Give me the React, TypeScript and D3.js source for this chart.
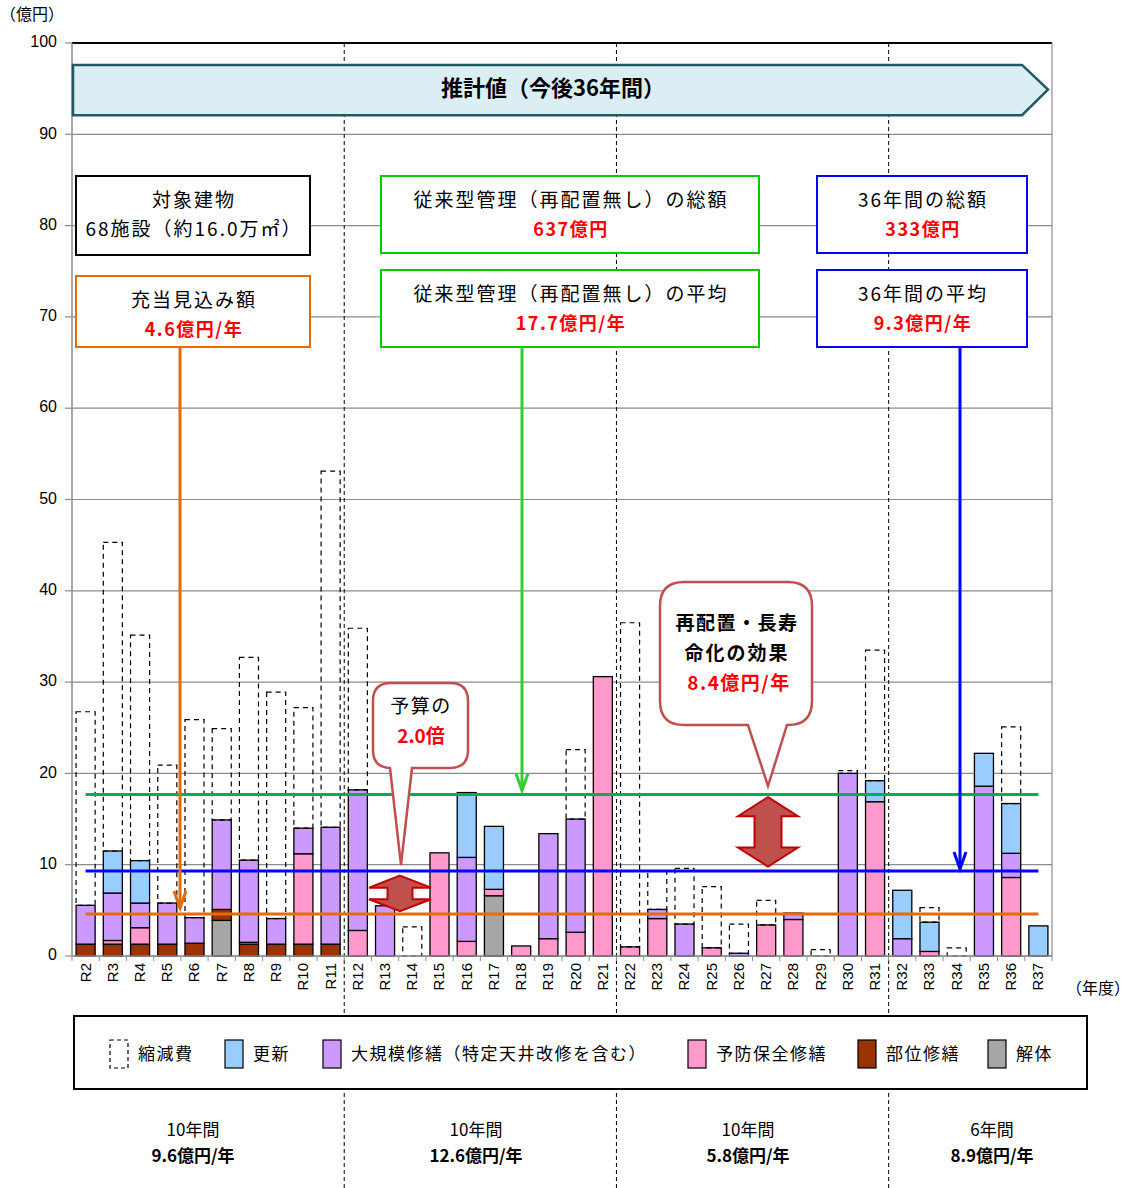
import React from 'react';
import * as d3 from 'd3';

// 年度
const years = [
  'R2', 'R3', 'R4', 'R5', 'R6', 'R7', 'R8', 'R9', 'R10', 'R11',
  'R12', 'R13', 'R14', 'R15', 'R16', 'R17', 'R18', 'R19', 'R20', 'R21',
  'R22', 'R23', 'R24', 'R25', 'R26', 'R27', 'R28', 'R29', 'R30', 'R31',
  'R32', 'R33', 'R34', 'R35', 'R36', 'R37',
];

// series values (億円), bottom of the stack first
const demolition = [0, 0, 0, 0, 0, 3.9, 0, 0, 0, 0, 0, 0, 0, 0, 0, 6.6, 0, 0, 0, 0, 0, 0, 0, 0, 0, 0, 0, 0, 0, 0, 0, 0, 0, 0, 0, 0];
const partial = [1.3, 1.3, 1.3, 1.3, 1.4, 1.2, 1.3, 1.3, 1.3, 1.3, 0, 0, 0, 0, 0, 0, 0, 0, 0, 0, 0, 0, 0, 0, 0, 0, 0, 0, 0, 0, 0, 0, 0, 0, 0, 0];
const preventive = [0, 0.4, 1.8, 0, 0, 0, 0.2, 0, 9.9, 0, 2.8, 0, 0, 11.3, 1.6, 0.7, 1.1, 1.9, 2.6, 30.6, 1.0, 4.1, 0, 0.9, 0, 3.4, 4.0, 0, 0, 16.9, 0, 0.5, 0, 0, 8.6, 0];
const major = [4.25, 5.2, 2.7, 4.5, 2.8, 9.8, 9.0, 2.8, 2.8, 12.8, 15.4, 5.5, 0, 0, 9.2, 0, 0, 11.5, 12.4, 0, 0, 1.0, 3.5, 0, 0.3, 0, 0.7, 0, 20.0, 0, 1.9, 0, 0, 18.6, 2.65, 0];
const renewal = [0, 4.6, 4.65, 0, 0, 0, 0, 0, 0, 0, 0, 0, 0, 0, 7.1, 6.9, 0, 0, 0, 0, 0, 0, 0, 0, 0, 0, 0, 0, 0, 2.3, 5.3, 3.2, 0, 3.6, 5.45, 3.3];
const reduction = [21.2, 33.8, 24.7, 15.1, 21.7, 10.0, 22.2, 24.8, 13.2, 39.0, 17.7, 0, 3.2, 0, 0, 0, 0, 0, 7.6, 0, 35.5, 4.2, 6.1, 6.7, 3.2, 2.7, 0, 0.7, 0.3, 14.3, 0, 1.6, 0.9, 0, 8.4, 0];

const seriesKeys = ['解体', '部位修繕', '予防保全修繕', '大規模修繕', '更新', '縮減費'];
const seriesValues = [demolition, partial, preventive, major, renewal, reduction];
const seriesColors = ['#a6a6a6', '#993300', '#ff99cc', '#cc99ff', '#99ccff', 'none'];

// reference lines
const budgetAvg = 4.6;
const plannedAvg = 9.3;
const conventionalAvg = 17.7;

const yTicks = [0, 10, 20, 30, 40, 50, 60, 70, 80, 90, 100];

const legendItems = [
  { label: '縮減費', key: '縮減費', x: 110 },
  { label: '更新', key: '更新', x: 225 },
  { label: '大規模修繕（特定天井改修を含む）', key: '大規模修繕', x: 323 },
  { label: '予防保全修繕', key: '予防保全修繕', x: 688 },
  { label: '部位修繕', key: '部位修繕', x: 858 },
  { label: '解体', key: '解体', x: 988 },
];

const periodLabels = [
  { years: '10年間', avg: '9.6億円/年', x: 193 },
  { years: '10年間', avg: '12.6億円/年', x: 476 },
  { years: '10年間', avg: '5.8億円/年', x: 748 },
  { years: '6年間', avg: '8.9億円/年', x: 992 },
];

const JP = "'Noto Sans CJK JP', sans-serif";
const NUM = "'Liberation Sans Narrow', 'Liberation Sans', Arial, sans-serif";

const margin = { left: 72, right: 81, top: 43, bottom: 232 };
const width = 1133;
const height = 1188;

const doubleArrow = (cx: number, top: number, bottom: number, wing: number, shaft: number, head: number) => {
  const w = wing / 2;
  const s = shaft / 2;
  return `M${cx},${top} L${cx + w},${top + head} L${cx + s},${top + head} L${cx + s},${bottom - head} L${cx + w},${bottom - head}
    L${cx},${bottom} L${cx - w},${bottom - head} L${cx - s},${bottom - head} L${cx - s},${top + head} L${cx - w},${top + head} Z`;
};

const callout = (x0: number, y0: number, x1: number, y1: number, r: number, p0: number, p1: number, tx: number, ty: number) =>
  `M${x0 + r},${y0} L${x1 - r},${y0} Q${x1},${y0} ${x1},${y0 + r} L${x1},${y1 - r} Q${x1},${y1} ${x1 - r},${y1}
   L${p1},${y1} L${tx},${ty} L${p0},${y1} L${x0 + r},${y1} Q${x0},${y1} ${x0},${y1 - r} L${x0},${y0 + r} Q${x0},${y0} ${x0 + r},${y0} Z`;

const Box = ({ x, y, w, h, color, lines }: { x: number; y: number; w: number; h: number; color: string; lines: { text: string; red?: boolean }[] }) => (
  <g>
    <rect x={x} y={y} width={w} height={h} fill="#fff" stroke={color} strokeWidth={2} />
    {lines.map((l, i) => (
      <text key={i} x={x + w / 2 + 1} y={y + 26 + i * 29} textAnchor="middle" dominantBaseline="middle"
        fontFamily={JP} fontSize={l.red ? 18 : 19} letterSpacing={l.red ? 1.5 : 2}
        fontWeight={l.red ? 'bold' : 'normal'} fill={l.red ? '#ff0000' : '#000'}>
        {l.text}
      </text>
    ))}
  </g>
);

const Arrow = ({ x, y1, y2, color }: { x: number; y1: number; y2: number; color: string }) => (
  <g stroke={color} strokeWidth={3} fill="none">
    <line x1={x} y1={y1} x2={x} y2={y2} />
    <polyline points={`${x - 6},${y2 - 17} ${x},${y2} ${x + 6},${y2 - 17}`} />
  </g>
);

const App: React.FC = () => {
  const x = d3.scaleBand()
    .domain(years)
    .range([margin.left, width - margin.right])
    .paddingInner(0.3)
    .paddingOuter(0.15);

  const y = d3.scaleLinear()
    .domain([0, 100])
    .range([height - margin.bottom, margin.top]);

  const table = years.map((yr, i) => {
    const row: { [k: string]: any } = { year: yr };
    seriesKeys.forEach((k, j) => { row[k] = seriesValues[j][i]; });
    return row;
  });
  const stacked = d3.stack().keys(seriesKeys)(table as any);

  const step = x.step();
  const lineX1 = (x(years[0]) as number) + x.bandwidth() / 2;
  const lineX2 = (x(years[years.length - 1]) as number) + x.bandwidth() / 2;
  const dividers = ['R11', 'R21', 'R31'].map(r => (x(r) as number) + x.bandwidth() + (step - x.bandwidth()) / 2);

  return (
    <svg width={width} height={height} style={{ position: 'absolute', left: 0, top: 0, background: '#fff' }}>
      {/* grid */}
      {yTicks.map(t => (
        <g key={t}>
          <line x1={margin.left} x2={width - margin.right} y1={y(t)} y2={y(t)}
            stroke={t === 100 ? '#000' : '#8c8c8c'} strokeWidth={t === 100 ? 2 : 1.2} />
          <line x1={margin.left - 7} x2={margin.left} y1={y(t)} y2={y(t)} stroke="#8c8c8c" strokeWidth={1.2} />
          <text x={57} y={y(t)} textAnchor="end" dominantBaseline="middle" fontFamily={NUM} fontSize={16}>{t}</text>
        </g>
      ))}
      <line x1={margin.left} x2={margin.left} y1={y(100)} y2={y(0)} stroke="#8c8c8c" strokeWidth={1.5} />
      <line x1={width - margin.right} x2={width - margin.right} y1={y(100)} y2={y(0)} stroke="#8c8c8c" strokeWidth={1.2} />
      <text x={0} y={16} fontFamily={JP} fontSize={16} dominantBaseline="middle">（億円）</text>

      {/* period dividers */}
      {dividers.map((dx, i) => (
        <line key={i} x1={dx} x2={dx} y1={y(100)} y2={height} stroke="#000" strokeWidth={1} strokeDasharray="4,3" />
      ))}

      {/* bars */}
      {stacked.map((s, si) => (
        <g key={s.key}>
          {s.map((d, i) => {
            const v = d[1] - d[0];
            if (v <= 0) return null;
            const dashed = s.key === '縮減費';
            return (
              <rect key={i} x={x(years[i])} y={y(d[1])} width={x.bandwidth()} height={y(d[0]) - y(d[1])}
                fill={dashed ? 'none' : seriesColors[si]} stroke="#000" strokeWidth={dashed ? 1.2 : 1.3}
                strokeDasharray={dashed ? '5,4' : undefined} />
            );
          })}
        </g>
      ))}

      {/* x axis */}
      <line x1={margin.left} x2={width - margin.right} y1={y(0)} y2={y(0)} stroke="#8c8c8c" strokeWidth={1.5} />
      {d3.range(years.length + 1).map(i => {
        const tx = margin.left + i * step;
        return <line key={i} x1={tx} x2={tx} y1={y(0)} y2={y(0) + 5} stroke="#8c8c8c" strokeWidth={1} />;
      })}
      {years.map(yr => {
        const cx = (x(yr) as number) + x.bandwidth() / 2;
        return (
          <text key={yr} transform={`translate(${cx + 1},${y(0) + 7}) rotate(-90)`} textAnchor="end"
            dominantBaseline="middle" fontFamily={NUM} fontSize={15}>{yr}</text>
        );
      })}
      <text x={1066} y={990} fontFamily={JP} fontSize={16} dominantBaseline="middle">（年度）</text>

      {/* average lines */}
      <line x1={lineX1} x2={lineX2} y1={y(conventionalAvg)} y2={y(conventionalAvg)} stroke="#00b050" strokeWidth={3} />
      <line x1={lineX1} x2={lineX2} y1={y(plannedAvg)} y2={y(plannedAvg)} stroke="#0000ff" strokeWidth={3} />
      <line x1={lineX1} x2={lineX2} y1={y(budgetAvg)} y2={y(budgetAvg)} stroke="#e46c0a" strokeWidth={3} />

      {/* banner */}
      <path d={`M73,${y(97.6)} L1022,${y(97.6)} L1048,${y(94.9)} L1022,${y(92.1)} L73,${y(92.1)} Z`}
        fill="#dbeef3" stroke="#215968" strokeWidth={2.5} />
      <text x={553} y={y(94.9)} textAnchor="middle" dominantBaseline="middle" fontFamily={JP} fontSize={22} fontWeight="bold">
        推計値（今後36年間）
      </text>

      {/* info boxes */}
      <Box x={76} y={176} w={234} h={79} color="#000" lines={[{ text: '対象建物' }, { text: '68施設（約16.0万㎡）' }]} />
      <Box x={76} y={276} w={234} h={71} color="#e46c0a" lines={[{ text: '充当見込み額' }, { text: '4.6億円/年', red: true }]} />
      <Box x={381} y={176} w={378} h={77} color="#00cc00" lines={[{ text: '従来型管理（再配置無し）の総額' }, { text: '637億円', red: true }]} />
      <Box x={381} y={270} w={378} h={77} color="#00cc00" lines={[{ text: '従来型管理（再配置無し）の平均' }, { text: '17.7億円/年', red: true }]} />
      <Box x={817} y={176} w={210} h={77} color="#0000ff" lines={[{ text: '36年間の総額' }, { text: '333億円', red: true }]} />
      <Box x={817} y={270} w={210} h={77} color="#0000ff" lines={[{ text: '36年間の平均' }, { text: '9.3億円/年', red: true }]} />

      <Arrow x={180} y1={347} y2={y(budgetAvg) - 6} color="#e46c0a" />
      <Arrow x={522} y1={347} y2={y(conventionalAvg) - 4} color="#33cc33" />
      <Arrow x={960} y1={347} y2={y(plannedAvg) - 2} color="#0000ff" />

      {/* callouts */}
      <path d={callout(373, 683, 468, 768, 18, 390, 412, 401, 865)} fill="#fff" stroke="#c0504d" strokeWidth={2.5} />
      <text x={421} y={708} textAnchor="middle" dominantBaseline="middle" fontFamily={JP} fontSize={19} letterSpacing={1.5}>予算の</text>
      <text x={421} y={738} textAnchor="middle" dominantBaseline="middle" fontFamily={JP} fontSize={19} fontWeight="bold" fill="#ff0000">2.0倍</text>
      <path d={doubleArrow(400, y(8.8), y(4.9), 62, 25, 12)} fill="#c0504d" stroke="#c00000" strokeWidth={2} />

      <path d={callout(660, 582, 812, 725, 24, 748, 787, 768, 786)} fill="#fff" stroke="#c0504d" strokeWidth={2.5} />
      <text x={737} y={625} textAnchor="middle" dominantBaseline="middle" fontFamily={JP} fontSize={19} fontWeight="bold" letterSpacing={1.5}>再配置・長寿</text>
      <text x={737} y={655} textAnchor="middle" dominantBaseline="middle" fontFamily={JP} fontSize={19} fontWeight="bold" letterSpacing={2}>命化の効果</text>
      <text x={739} y={685} textAnchor="middle" dominantBaseline="middle" fontFamily={JP} fontSize={19} fontWeight="bold" letterSpacing={1.5} fill="#ff0000">8.4億円/年</text>
      <path d={doubleArrow(768, y(17.4), y(9.8), 60, 27, 19)} fill="#c0504d" stroke="#c00000" strokeWidth={2} />

      {/* legend */}
      <rect x={74} y={1016} width={1013} height={73} fill="#fff" stroke="#000" strokeWidth={2} />
      {legendItems.map(item => {
        const idx = seriesKeys.indexOf(item.key);
        const dashed = item.key === '縮減費';
        return (
          <g key={item.key}>
            <rect x={item.x} y={1040} width={18} height={28} fill={dashed ? '#fff' : seriesColors[idx]}
              stroke="#000" strokeWidth={1.2} strokeDasharray={dashed ? '4,3' : undefined} />
            <text x={item.x + 28} y={1055} dominantBaseline="middle" fontFamily={JP} fontSize={17} letterSpacing={1.5}>{item.label}</text>
          </g>
        );
      })}

      {/* period averages */}
      {periodLabels.map((p, i) => (
        <g key={i}>
          <rect x={p.x - 60} y={1118} width={120} height={52} fill="#fff" />
          <text x={p.x} y={1131} textAnchor="middle" dominantBaseline="middle" fontFamily={JP} fontSize={17}>{p.years}</text>
          <text x={p.x} y={1157} textAnchor="middle" dominantBaseline="middle" fontFamily={JP} fontSize={17} fontWeight="bold">{p.avg}</text>
        </g>
      ))}
    </svg>
  );
};

export default App;
